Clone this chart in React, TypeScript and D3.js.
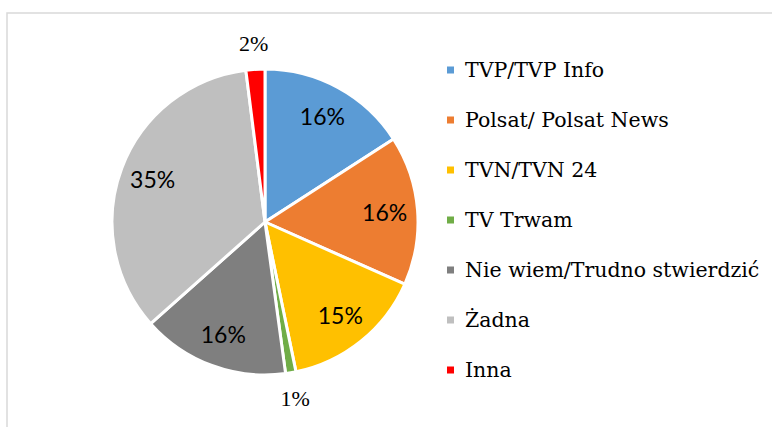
import React from 'react';
import * as d3 from 'd3';

// kategorie i wartości (%)
const categories = ['TVP/TVP Info', 'Polsat/ Polsat News', 'TVN/TVN 24', 'TV Trwam', 'Nie wiem/Trudno stwierdzić', 'Żadna', 'Inna'];
const values = [15.9, 15.8, 15.1, 1.1, 15.6, 34.6, 2.0];
const colors = ['#5B9BD5', '#ED7D31', '#FFC000', '#70AD47', '#7F7F7F', '#BFBFBF', '#FF0000'];

const W = 772;
const H = 427;

export default function App() {
  const cx = 265;
  const cy = 222;
  const R = 153;

  const pie = d3.pie<number>().sort(null).value(d => d);
  const arcs = pie(values);
  const arcGen = d3.arc<d3.PieArcDatum<number>>().innerRadius(0).outerRadius(R);
  const inner = d3.arc<d3.PieArcDatum<number>>().innerRadius(120).outerRadius(120);
  const outer = d3.arc<d3.PieArcDatum<number>>().innerRadius(179).outerRadius(179);

  return (
    <svg width={W} height={H} style={{ position: 'absolute', left: 0, top: 0 }}>
      <rect x={0} y={0} width={W} height={H} fill="#fff" />
      <rect x={7} y={13} width={900} height={600} fill="none" stroke="#d9d9d9" strokeWidth={1.5} />
      <g transform={`translate(${cx},${cy})`}>
        {arcs.map((a, i) => (
          <path key={i} d={arcGen(a) || ''} fill={colors[i]} stroke="#fff" strokeWidth={3} strokeLinejoin="round" />
        ))}
        {arcs.map((a, i) => {
          const small = a.value < 5;
          const [x, y] = small ? outer.centroid(a) : inner.centroid(a);
          return (
            <text key={i} x={x} y={y} dy="0.35em" textAnchor="middle"
              fontFamily={small ? 'Liberation Serif' : 'Lato'} fontSize={small ? 22 : 23} fill="#000">
              {Math.round(a.value)}%
            </text>
          );
        })}
      </g>
      <g transform="translate(447,70)">
        {categories.map((c, i) => (
          <g key={c} transform={`translate(0,${i * 50})`}>
            <rect x={0} y={-3.5} width={7} height={7} fill={colors[i]} />
            <text x={18} y={0} dy="0.35em" fontFamily="DejaVu Serif" fontSize={20.5} fill="#000">{c}</text>
          </g>
        ))}
      </g>
    </svg>
  );
}
